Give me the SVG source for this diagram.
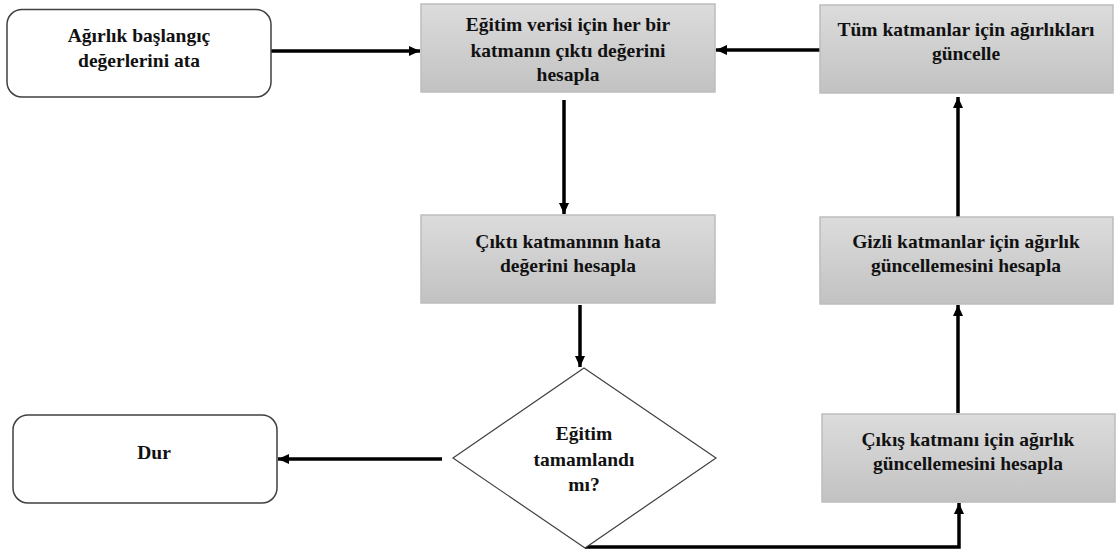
<svg xmlns="http://www.w3.org/2000/svg" width="1118" height="554" viewBox="0 0 1118 554">
<defs>
<linearGradient id="g" x1="0" y1="0" x2="0" y2="1">
<stop offset="0" stop-color="#dcdcdc"/>
<stop offset="1" stop-color="#c2c2c2"/>
</linearGradient>
<marker id="ah" markerUnits="userSpaceOnUse" markerWidth="12" markerHeight="12" viewBox="0 0 12 12" refX="11" refY="6" orient="auto">
<path d="M0,1 L11,6 L0,11 Z" fill="#000"/>
</marker>
</defs>
<style>
.r{fill:#fff;stroke:#404040;stroke-width:1.5}
.b{fill:url(#g);stroke:#bdbdbd;stroke-width:1.5}
.d{fill:#fff;stroke:#404040;stroke-width:1.2}
.t{font-family:'Liberation Serif','Times New Roman',serif;font-weight:700;font-size:19.5px;fill:#111;text-anchor:middle}
.c{fill:none;stroke:#000;stroke-width:3.5}
</style>
<rect width="1118" height="554" fill="#fff"/>
<g id="connectors">
<path class="c" d="M271,51 H420" marker-end="url(#ah)"/>
<path class="c" d="M820,50 H716" marker-end="url(#ah)"/>
<path class="c" d="M564,100 V214" marker-end="url(#ah)"/>
<path class="c" d="M580,305 V367" marker-end="url(#ah)"/>
<path class="c" d="M442,459 H278" marker-end="url(#ah)"/>
<path class="c" d="M585,547 H959 V503" marker-end="url(#ah)"/>
<path class="c" d="M958,413 V305" marker-end="url(#ah)"/>
<path class="c" d="M958,217 V97" marker-end="url(#ah)"/>
</g>
<g id="start">
<rect class="r" x="7" y="9.5" width="264" height="87.5" rx="15"/>
<text class="t" x="139" y="42">Ağırlık başlangıç</text>
<text class="t" x="139" y="67">değerlerini ata</text>
</g>
<g id="forward">
<rect class="b" x="421" y="4" width="294" height="88"/>
<text class="t" x="568" y="31">Eğitim verisi için her bir</text>
<text class="t" x="568" y="57">katmanın çıktı değerini</text>
<text class="t" x="568" y="81">hesapla</text>
</g>
<g id="update-all">
<rect class="b" x="820" y="5" width="293" height="88"/>
<text class="t" x="966" y="36">Tüm katmanlar için ağırlıkları</text>
<text class="t" x="966" y="60">güncelle</text>
</g>
<g id="error">
<rect class="b" x="421" y="215" width="294" height="88"/>
<text class="t" x="568" y="248">Çıktı katmanının hata</text>
<text class="t" x="568" y="272">değerini hesapla</text>
</g>
<g id="hidden">
<rect class="b" x="820" y="217" width="293" height="87"/>
<text class="t" x="966" y="248">Gizli katmanlar için ağırlık</text>
<text class="t" x="966" y="272">güncellemesini hesapla</text>
</g>
<g id="decision">
<polygon class="d" points="584,368 716,458 585,548 453,458"/>
<text class="t" x="584" y="440">Eğitim</text>
<text class="t" x="584" y="466">tamamlandı</text>
<text class="t" x="584" y="491">mı?</text>
</g>
<g id="output">
<rect class="b" x="822" y="414" width="293" height="88"/>
<text class="t" x="968" y="446">Çıkış katmanı için ağırlık</text>
<text class="t" x="968" y="470">güncellemesini hesapla</text>
</g>
<g id="stop">
<rect class="r" x="13" y="415" width="264" height="88" rx="15"/>
<text class="t" x="154" y="459">Dur</text>
</g>
</svg>
